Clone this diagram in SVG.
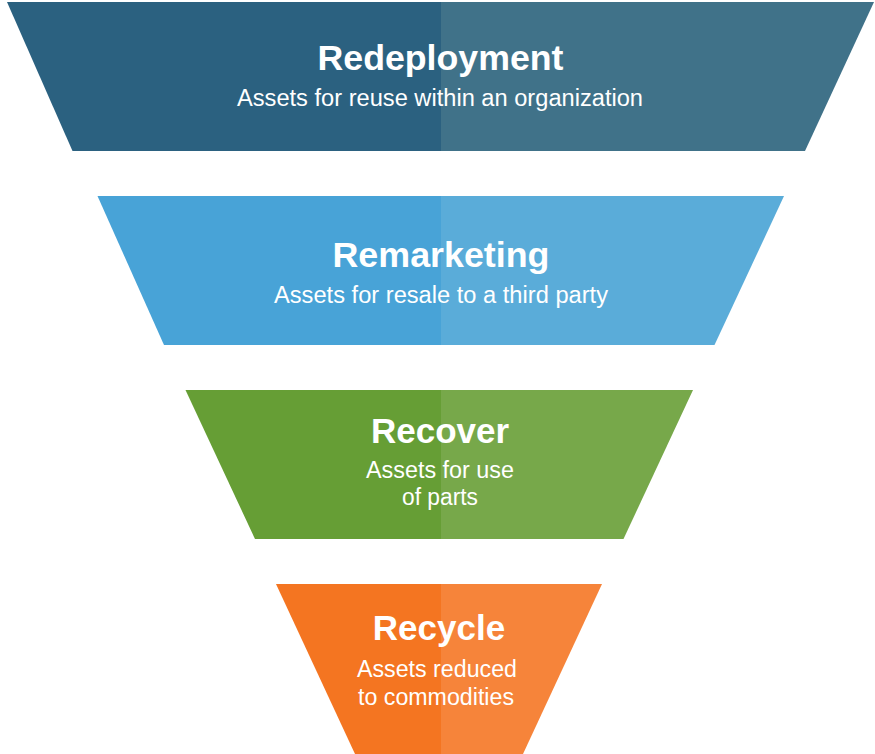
<svg xmlns="http://www.w3.org/2000/svg" width="875" height="754" viewBox="0 0 875 754">
<style>
.t{font-family:"Liberation Sans",Arial,Helvetica,sans-serif;font-weight:bold;font-size:35px;fill:#ffffff;text-anchor:middle}
.s{font-family:"Liberation Sans",Arial,Helvetica,sans-serif;font-size:23px;fill:#ffffff;text-anchor:middle}
</style>
<rect width="875" height="754" fill="#ffffff"/>
<g id="redeployment">
<polygon points="7,2 441,2 441,151 72.5,151" fill="#2b6180"/>
<polygon points="441,2 874,2 805,151 441,151" fill="#407289"/>
<text class="t" x="440.5" y="70" textLength="246" lengthAdjust="spacingAndGlyphs">Redeployment</text>
<text class="s" x="440" y="106" textLength="406" lengthAdjust="spacingAndGlyphs">Assets for reuse within an organization</text>
</g>
<g id="remarketing">
<polygon points="97.5,196 441,196 441,345 164,345" fill="#48a3d7"/>
<polygon points="441,196 784,196 714.5,345 441,345" fill="#5aacd9"/>
<text class="t" x="441" y="267" textLength="217" lengthAdjust="spacingAndGlyphs">Remarketing</text>
<text class="s" x="441" y="303" textLength="334" lengthAdjust="spacingAndGlyphs">Assets for resale to a third party</text>
</g>
<g id="recover">
<polygon points="185.5,390 441,390 441,539 255,539" fill="#669e35"/>
<polygon points="441,390 693,390 623.5,539 441,539" fill="#77a84a"/>
<text class="t" x="440" y="443">Recover</text>
<text class="s" x="440" y="478" textLength="148" lengthAdjust="spacingAndGlyphs">Assets for use</text>
<text class="s" x="440" y="505" textLength="76" lengthAdjust="spacingAndGlyphs">of parts</text>
</g>
<g id="recycle">
<polygon points="276,584 441,584 441,754 355,754" fill="#f47521"/>
<polygon points="441,584 602,584 523,754 441,754" fill="#f6843a"/>
<text class="t" x="439" y="640">Recycle</text>
<text class="s" x="437" y="677" textLength="160" lengthAdjust="spacingAndGlyphs">Assets reduced</text>
<text class="s" x="436" y="705" textLength="156" lengthAdjust="spacingAndGlyphs">to commodities</text>
</g>
<g id="connectors"></g>
</svg>
